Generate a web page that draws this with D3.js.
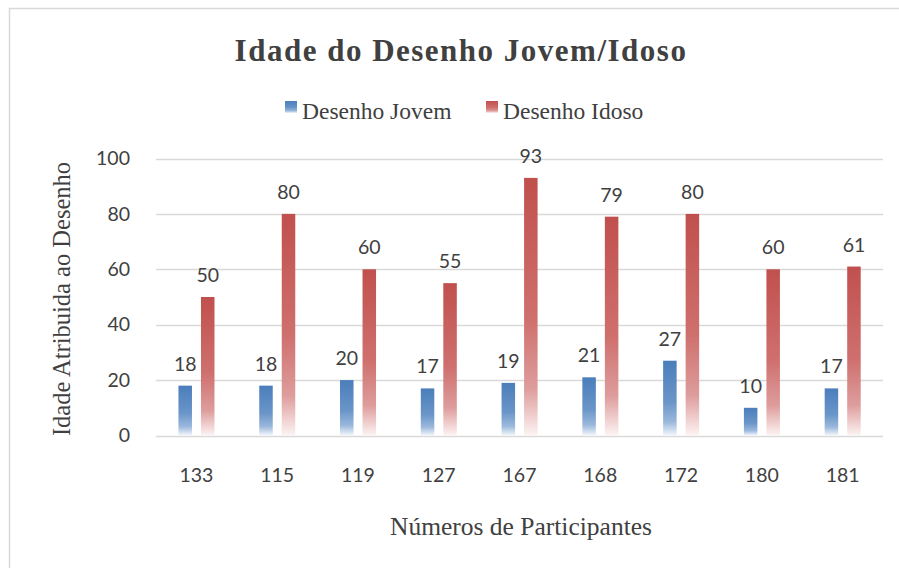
<!DOCTYPE html>
<html><head><meta charset="utf-8">
<script src="https://cdn.jsdelivr.net/npm/d3@7"></script>
<style>body{margin:0;background:#fff;} svg{display:block;}</style>
</head><body>
<svg id="c" width="899" height="568"></svg>
<script>
const categories = ["133","115","119","127","167","168","172","180","181"];
const jovem = [18,18,20,17,19,21,27,10,17];
const idoso = [50,80,60,55,93,79,80,60,61];
const seriesNames = ["Desenho Jovem","Desenho Idoso"];
const yTicks = [0,20,40,60,80,100];

const svg = d3.select("#c");
const W = 899, H = 568;
svg.append("rect").attr("x",0).attr("y",0).attr("width",W).attr("height",H).attr("fill","#fff");
svg.append("rect").attr("x",9.5).attr("y",8.5).attr("width",W+10).attr("height",H+10)
  .attr("fill","none").attr("stroke","#d9d9d9").attr("stroke-width",1.5);

const plotL = 156, plotR = 883, plotT = 158.5, plotB = 435.5;
const x = d3.scaleBand().domain(categories).range([plotL, plotR]).paddingInner(0).paddingOuter(0);
const y = d3.scaleLinear().domain([0,100]).range([plotB, plotT]);
const bw = x.bandwidth();
const sub = d3.scaleBand().domain([0,1]).range([bw*0.278, bw*0.724]).paddingInner(0.4).paddingOuter(0);

const defs = svg.append("defs");
function grad(id, c0, c1, c2, c3){
  const g = defs.append("linearGradient").attr("id",id).attr("x1",0).attr("y1",0).attr("x2",0).attr("y2",1);
  g.append("stop").attr("offset","0%").attr("stop-color",c0);
  g.append("stop").attr("offset","55%").attr("stop-color",c1);
  g.append("stop").attr("offset","82%").attr("stop-color",c2);
  g.append("stop").attr("offset","100%").attr("stop-color",c3);
}
grad("gBlue","#4a7ebb","#6a95c8","#9bb8dc","#f2f6fb");
grad("gRed","#c0504d","#cf706e","#dd9d9c","#fdf3f3");
const fills = ["url(#gBlue)","url(#gRed)"];

// gridlines
svg.append("g").selectAll("line").data(yTicks).join("line")
  .attr("x1",plotL).attr("x2",plotR)
  .attr("y1",d=>Math.round(y(d))+0.5).attr("y2",d=>Math.round(y(d))+0.5)
  .attr("stroke","#d9d9d9").attr("stroke-width",1.5);

// y axis labels
const yAxis = d3.axisLeft(y).tickValues(yTicks).tickSize(0).tickPadding(0);
const ya = svg.append("g").attr("transform",`translate(${plotL-26},0)`).call(yAxis);
ya.select(".domain").remove();
ya.selectAll("text").attr("font-family","Lato, 'Open Sans', sans-serif").attr("font-size",19.5).attr("fill","#404040");

// x axis labels
const xAxis = d3.axisBottom(x).tickSize(0).tickPadding(0);
const xa = svg.append("g").attr("transform",`translate(0,${plotB+33})`).call(xAxis);
xa.select(".domain").remove();
xa.selectAll("text").attr("font-family","Lato, 'Open Sans', sans-serif").attr("font-size",19.5).attr("fill","#404040");

// bars
const series = [jovem, idoso];
const rows = [];
categories.forEach((c,i)=>series.forEach((s,j)=>rows.push({c, j, v:s[i]})));
svg.append("g").selectAll("rect").data(rows).join("rect")
  .attr("x",d=>x(d.c)+sub(d.j)).attr("width",sub.bandwidth())
  .attr("y",d=>y(d.v)).attr("height",d=>y(0)-y(d.v))
  .attr("fill",d=>fills[d.j]);

// data labels
svg.append("g").selectAll("text").data(rows).join("text")
  .attr("x",d=>x(d.c)+sub(d.j)+sub.bandwidth()/2)
  .attr("y",d=>y(d.v)-15)
  .attr("text-anchor","middle")
  .attr("font-family","Lato, 'Open Sans', sans-serif").attr("font-size",19.5).attr("fill","#404040")
  .text(d=>d.v);

// title
svg.append("text").attr("x",461).attr("y",61).attr("text-anchor","middle")
  .attr("font-family","'Liberation Serif', 'Times New Roman', serif").attr("font-weight","bold")
  .attr("font-size",31).attr("letter-spacing",1.5).attr("fill","#404040")
  .text("Idade do Desenho Jovem/Idoso");

// legend
const legX = [285, 486];
const leg = svg.append("g");
seriesNames.forEach((n,j)=>{
  leg.append("rect").attr("x",legX[j]).attr("y",101).attr("width",12).attr("height",12).attr("fill",fills[j]);
  leg.append("text").attr("x",legX[j]+17).attr("y",119)
    .attr("font-family","'Liberation Serif', 'Times New Roman', serif").attr("font-size",23.5).attr("fill","#404040")
    .text(n);
});

// axis titles
svg.append("text").attr("x",521).attr("y",535).attr("text-anchor","middle")
  .attr("font-family","'Liberation Serif', 'Times New Roman', serif").attr("font-size",25.5).attr("fill","#404040")
  .text("Números de Participantes");
svg.append("text").attr("transform","translate(70,299) rotate(-90)").attr("text-anchor","middle")
  .attr("font-family","'Liberation Serif', 'Times New Roman', serif").attr("font-size",24.5).attr("fill","#404040")
  .text("Idade Atribuida ao Desenho");
</script>
</body></html>
